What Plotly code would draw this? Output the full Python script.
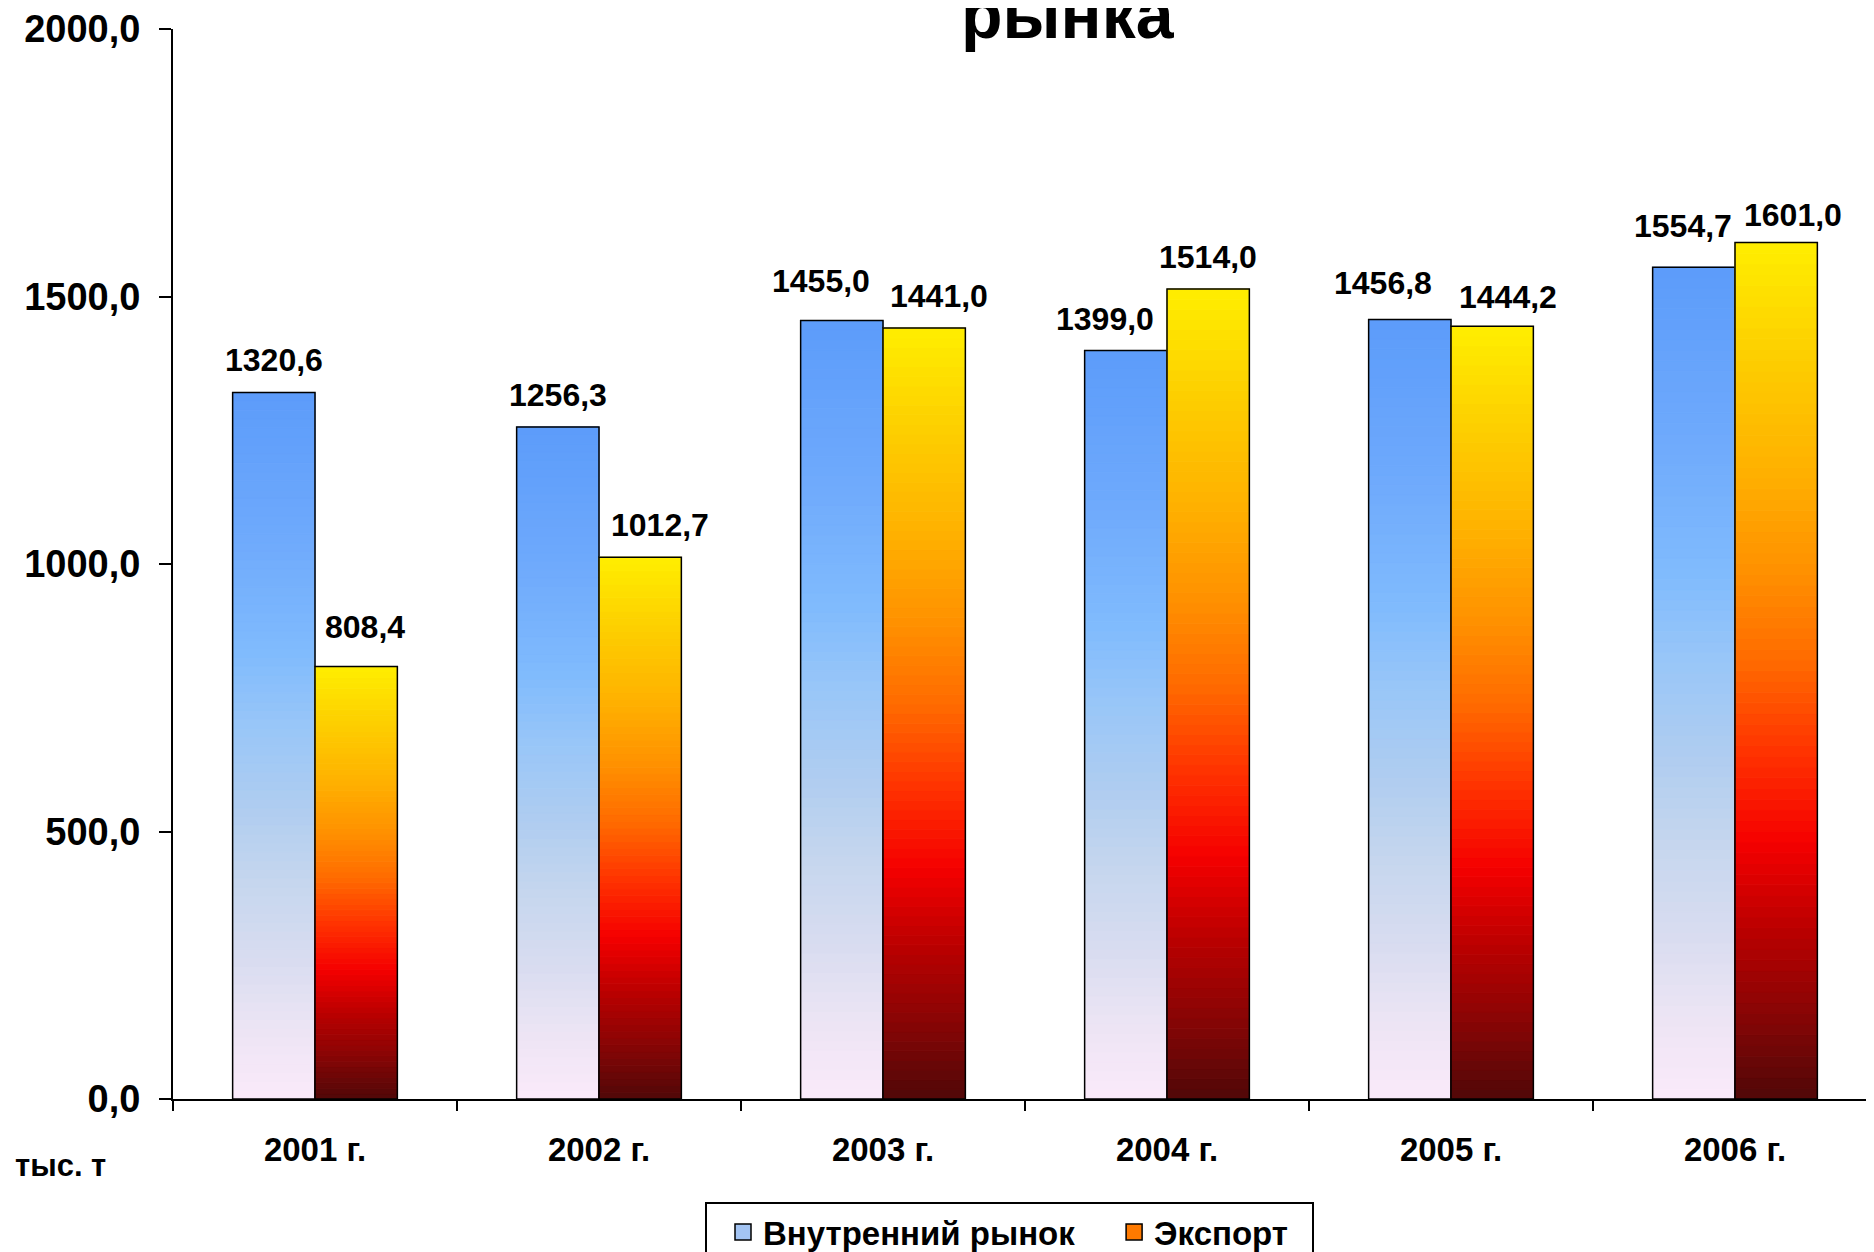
import plotly.graph_objects as go
from plotly.colors import sample_colorscale

# данные
years = ["2001 г.", "2002 г.", "2003 г.", "2004 г.", "2005 г.", "2006 г."]
domestic = [1320.6, 1256.3, 1455.0, 1399.0, 1456.8, 1554.7]
export = [808.4, 1012.7, 1441.0, 1514.0, 1444.2, 1601.0]
y_ticks = [0, 500, 1000, 1500, 2000]

# градиенты заливки (снизу вверх)
blue_scale = [
    [0.0, "#fbeafa"], [0.1, "#ece4f4"], [0.2, "#d8dcf0"], [0.31, "#c5d6ee"],
    [0.41, "#b0cdf0"], [0.53, "#98c6f8"], [0.63, "#80bbfd"], [0.8, "#6ea9fc"],
    [1.0, "#5c9cfa"],
]
fire_scale = [
    [0.0, "#500808"], [0.1, "#880505"], [0.2, "#bb0000"], [0.3, "#f50000"],
    [0.4, "#ff3000"], [0.51, "#ff6a00"], [0.615, "#ff9000"], [0.73, "#ffb000"],
    [0.875, "#fdd000"], [1.0, "#ffee00"],
]

# сдвиги подписей, чтобы не налезали друг на друга (px)
dom_dx = [0, 0, -21, -21, -27, -11]
dom_dy = [0, 0, 8, 0, 5, 9]
exp_dx = [9, 20, 15, 0, 16, 17]
exp_dy = [8, 0, 0, 0, -3, -5]

N = 80
FONT = "Liberation Sans"
L, R, T, B = 165, 5, 21, 161
W, H = 1874, 1252
PW, PH = W - L - R, H - T - B
NBSP = "\u00a0"


def fmt(v):
    return f"{v:.1f}".replace(".", ",")


fig = go.Figure()


def gradient_bars(values, scale, group):
    cols = sample_colorscale(scale, [(k + 0.5) / N for k in range(N)])
    for k in range(N):
        fig.add_trace(go.Bar(
            x=years,
            y=[v / N for v in values],
            base=[v * k / N for v in values],
            offsetgroup=group,
            marker=dict(color=cols[k], line=dict(color=cols[k], width=1)),
            showlegend=False,
            hoverinfo="skip",
        ))
    fig.add_trace(go.Bar(
        x=years, y=values, offsetgroup=group,
        marker=dict(color="rgba(0,0,0,0)", line=dict(color="black", width=1.5)),
        showlegend=False,
    ))


gradient_bars(domestic, blue_scale, "dom")
gradient_bars(export, fire_scale, "exp")

# элементы легенды
fig.add_trace(go.Scatter(x=[None], y=[None], mode="markers",
                         name="Внутренний рынок" + NBSP * 2,
                         marker=dict(symbol="square", size=16, color="#a3c4f3",
                                     line=dict(color="black", width=1.5))))
fig.add_trace(go.Scatter(x=[None], y=[None], mode="markers",
                         name="Экспорт" + NBSP * 2,
                         marker=dict(symbol="square", size=16, color="#ff7a00",
                                     line=dict(color="black", width=1.5))))

annotations = []
for i, yr in enumerate(years):
    annotations.append(dict(
        x=yr, y=domestic[i], xref="x", yref="y", text=f"<b>{fmt(domestic[i])}</b>",
        showarrow=False, yanchor="bottom", xshift=-41 + dom_dx[i], yshift=12 + dom_dy[i],
        font=dict(size=32, color="black", family=FONT),
    ))
    annotations.append(dict(
        x=yr, y=export[i], xref="x", yref="y", text=f"<b>{fmt(export[i])}</b>",
        showarrow=False, yanchor="bottom", xshift=41 + exp_dx[i], yshift=12 + exp_dy[i],
        font=dict(size=32, color="black", family=FONT),
    ))

annotations.append(dict(
    x=0, y=0, xref="paper", yref="paper", text="<b>тыс. т</b>", showarrow=False,
    xanchor="left", yanchor="middle", xshift=-160, yshift=-66,
    font=dict(size=31, color="black", family=FONT),
))
annotations.append(dict(
    x=(1060 - L) / PW, y=1, xref="paper", yref="paper", text="<b>рынка</b>",
    showarrow=False, xanchor="center", yanchor="middle", yshift=15,
    font=dict(size=68, color="black", family=FONT),
))

fig.update_layout(
    width=W,
    height=H,
    barmode="group",
    bargap=0.42,
    bargroupgap=0,
    paper_bgcolor="white",
    plot_bgcolor="white",
    font=dict(family=FONT, color="black"),
    margin=dict(l=L, r=R, t=T, b=B, autoexpand=False),
    annotations=annotations,
    legend=dict(
        orientation="h",
        x=(697 - L) / PW, xanchor="left",
        y=-103 / PH, yanchor="top",
        bgcolor="white", bordercolor="black", borderwidth=2,
        indentation=16,
        font=dict(size=33, family=FONT, weight="bold", color="black"),
    ),
    xaxis=dict(
        range=[-0.5, 5.5],
        showline=True, linecolor="black", linewidth=2,
        ticks="outside", tickson="boundaries", ticklen=10, tickwidth=2, tickcolor="black",
        ticklabelstandoff=20,
        tickfont=dict(size=33, family=FONT, weight="bold", color="black"),
        showgrid=False,
    ),
    yaxis=dict(
        range=[0, 2000],
        tickvals=y_ticks, ticktext=[fmt(v) for v in y_ticks],
        showline=True, linecolor="black", linewidth=2,
        ticks="outside", ticklen=12, tickwidth=2, tickcolor="black",
        ticklabelstandoff=11,
        tickfont=dict(size=38, family=FONT, weight="bold", color="black"),
        showgrid=False, zeroline=False,
    ),
)

fig.write_html("out.html")
